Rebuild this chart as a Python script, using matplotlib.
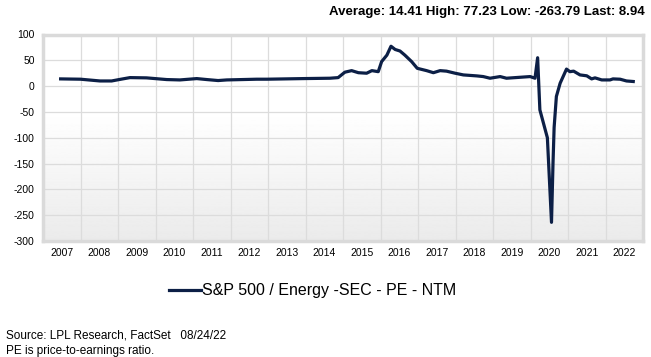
import numpy as np
import matplotlib
matplotlib.use("Agg")
import matplotlib.pyplot as plt

plt.rcParams['font.family'] = ['Liberation Sans', 'DejaVu Sans']

# S&P 500 Energy sector, forward (NTM) PE
dates = [2007.47, 2008.0, 2008.52, 2008.83, 2009.05, 2009.32, 2009.76, 2010.3,
         2010.65, 2011.1, 2011.37, 2011.67, 2011.9, 2012.7, 2012.97, 2013.94,
         2014.65, 2014.87, 2015.05, 2015.23, 2015.41, 2015.63, 2015.77, 2015.94,
         2016.03, 2016.17, 2016.28, 2016.39, 2016.52, 2016.65, 2016.83, 2016.98,
         2017.23, 2017.41, 2017.59, 2017.76, 2017.99, 2018.21, 2018.57, 2018.74,
         2018.92, 2019.19, 2019.36, 2019.99, 2020.12, 2020.19, 2020.25, 2020.45,
         2020.56, 2020.60, 2020.63, 2020.69, 2020.79, 2020.96, 2021.05, 2021.15,
         2021.32, 2021.5, 2021.63, 2021.72, 2021.9, 2022.12, 2022.2, 2022.39,
         2022.56, 2022.74]
pe = [14, 13.4, 10, 10, 13, 16.5, 16, 12.7,
      12, 14.6, 12.7, 10.8, 12, 13.4, 13.4, 14.6,
      15.3, 16.5, 27, 30, 26, 25, 30, 28,
      47.5, 60, 77.23, 71, 68, 60, 47.5, 34.5,
      30, 26, 30, 29, 25, 21.7, 19.8, 18.5,
      15.3, 18.5, 15.3, 18.5, 15.3, 55, -46, -100,
      -263.79, -150, -80, -20, 5.6, 33, 28, 29,
      21.7, 20, 14, 16, 12, 12, 14, 13.4,
      10, 8.94]

years = list(range(2007, 2023))
yticks = [100, 50, 0, -50, -100, -150, -200, -250, -300]
series_name = "S&P 500 / Energy -SEC - PE - NTM"
stats = "Average: 14.41 High: 77.23 Low: -263.79 Last: 8.94"

fig = plt.figure(figsize=(6.51, 3.57), dpi=100)
ax = fig.add_axes([43/651, 1-241/357, 600/651, (241-34.5)/357])

# background gradient, white at top to light grey at bottom
grad = np.linspace(1.0, 0.92, 256).reshape(-1, 1)
grad = np.clip((grad - 0.92) / 0.08 * 1.6, 0, 1) * 0.08 + 0.92
ax.imshow(grad, cmap='gray', vmin=0, vmax=1, aspect='auto',
          extent=[0, 1, 0, 1], transform=ax.transAxes, zorder=0)

ax.plot(dates, pe, color='#0c1f46', lw=2.3, solid_joinstyle='round', zorder=3)

ax.set_xlim(2007, 2023)
ax.set_ylim(-300, 100)
ax.set_xticks([y + 0.5 for y in years])
ax.set_xticklabels([str(y) for y in years], fontsize=7.5)
ax.set_xticks(range(2008, 2023), minor=True)
ax.set_yticks(yticks)
ax.set_yticklabels([str(v) for v in yticks], fontsize=7.5)
ax.tick_params(which='both', length=0)
ax.tick_params(axis='x', pad=5)
ax.tick_params(axis='y', pad=6)
ax.grid(True, which='minor', axis='x', color='#dcdcdc', lw=0.9, zorder=1)
ax.grid(True, which='major', axis='y', color='#dcdcdc', lw=0.9, zorder=1)
for s in ax.spines.values():
    s.set_color('#dadada')
    s.set_linewidth(2.5)

fig.text(645/651, 1-12/357, stats, ha='right', va='center',
         fontsize=9.5, fontweight='bold')

h, = ax.plot([], [], color='#0c1f46', lw=2.3)
fig.legend([h], [series_name], loc='center', bbox_to_anchor=(0.48, 1-291/357),
           frameon=False, handlelength=2.0, handletextpad=0.1, fontsize=11.5)

fig.text(6/651, 1-336/357, "Source: LPL Research, FactSet   08/24/22",
         ha='left', va='center', fontsize=8.5)
fig.text(6/651, 1-351/357, "PE is price-to-earnings ratio.",
         ha='left', va='center', fontsize=8.5)

fig.savefig("out.png", dpi=100)
